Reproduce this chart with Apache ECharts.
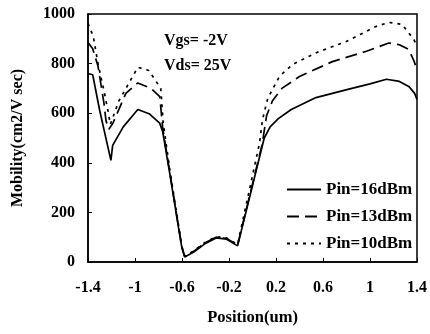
<!DOCTYPE html>
<html><head><meta charset="utf-8">
<script src="https://cdn.jsdelivr.net/npm/echarts@6/dist/echarts.min.js"></script>
<style>html,body{margin:0;padding:0;background:#fff}#c{width:430px;height:334px}</style>
</head><body><div id="c"></div>
<script>
var xTickLabels = ['-1.4','-1','-0.6','-0.2','0.2','0.6','1','1.4'];
var yTickLabels = ['0','200','400','600','800','1000'];
var seriesNames = ['Pin=16dBm','Pin=13dBm','Pin=10dBm'];
var annotations = ['Vgs= -2V','Vds= 25V'];

var pos16 = [-1.4,-1.36,-1.3,-1.205,-1.19,-1.1,-0.976,-0.88,-0.79,-0.764,-0.7,-0.62,-0.6,-0.577,-0.5,-0.4,-0.31,-0.22,-0.127,0.1,0.15,0.22,0.33,0.54,0.82,1.0,1.14,1.25,1.33,1.38,1.4];
var mob16 = [760,755,610,410,470,545,615,598,560,525,345,110,55,20,40,75,97,92,65,500,545,578,615,663,697,718,737,728,708,680,655];

var pos13 = [-1.4,-1.36,-1.315,-1.264,-1.247,-1.222,-1.188,-1.078,-0.976,-0.865,-0.789,-0.764,-0.7,-0.62,-0.6,-0.577,-0.5,-0.4,-0.31,-0.22,-0.127,0.08,0.12,0.17,0.25,0.4,0.68,0.97,1.16,1.25,1.33,1.375,1.4];
var mob13 = [885,860,790,640,570,535,560,680,722,700,667,540,350,115,60,22,43,78,100,95,68,470,590,650,700,748,808,850,883,876,857,810,775];

var pos10 = [-1.4,-1.355,-1.315,-1.264,-1.23,-1.21,-1.137,-0.976,-0.882,-0.781,-0.76,-0.7,-0.62,-0.6,-0.577,-0.5,-0.4,-0.31,-0.22,-0.127,0.06,0.085,0.13,0.229,0.339,0.543,0.797,1.052,1.162,1.273,1.374,1.4];
var mob10 = [962,910,800,690,610,555,650,785,772,700,560,360,120,60,24,45,80,102,97,70,480,574,660,748,796,844,889,950,966,958,897,870];

function pairs(xs, ys){ return xs.map(function(x,i){ return [x, ys[i]]; }); }

var font = 'Liberation Serif';
var chart = echarts.init(document.getElementById('c'), null, {renderer:'canvas'});
chart.setOption({
  animation:false,
  backgroundColor:'#fff',
  grid:{left:88,right:12,top:14,bottom:72,show:true,borderColor:'#000',borderWidth:1.5,backgroundColor:'transparent'},
  xAxis:{type:'value',min:-1.4,max:1.4,interval:0.4,
    name:'Position(um)',nameLocation:'middle',nameGap:47,
    nameTextStyle:{fontFamily:font,fontWeight:'bold',fontSize:16.5,color:'#000'},
    axisLine:{onZero:false,lineStyle:{color:'#000',width:1.5}},
    axisTick:{inside:true,length:4,lineStyle:{color:'#000'}},
    axisLabel:{margin:18,fontFamily:font,fontWeight:'bold',fontSize:16,color:'#000',
      formatter:function(v){ var i=Math.round((v+1.4)/0.4); return xTickLabels[i]!==undefined?xTickLabels[i]:''; }},
    splitLine:{show:false}},
  yAxis:{type:'value',min:0,max:1000,interval:200,
    name:'Mobility(cm2/V sec)',nameLocation:'middle',nameGap:62,nameRotate:90,
    nameTextStyle:{fontFamily:font,fontWeight:'bold',fontSize:16,color:'#000'},
    axisLine:{show:true,onZero:false,lineStyle:{color:'#000',width:1.5}},
    axisTick:{show:true,inside:true,length:4,lineStyle:{color:'#000'}},
    axisLabel:{margin:13,fontFamily:font,fontWeight:'bold',fontSize:16,color:'#000',
      formatter:function(v){ var i=Math.round(v/200); return yTickLabels[i]; }},
    splitLine:{show:false}},
  legend:{orient:'vertical',left:281,top:176,itemWidth:34,itemHeight:14,itemGap:10,
    itemStyle:{opacity:0},
    textStyle:{fontFamily:font,fontWeight:'bold',fontSize:17,color:'#000'},
    data:seriesNames},
  graphic:[
    {type:'text',left:164,top:33,style:{text:annotations[0],font:'bold 16px "Liberation Serif"',fill:'#000'}},
    {type:'text',left:164,top:58,style:{text:annotations[1],font:'bold 16px "Liberation Serif"',fill:'#000'}}
  ],
  series:[
    {name:seriesNames[0],type:'line',data:pairs(pos16,mob16),showSymbol:false,symbol:'none',
      lineStyle:{color:'#000',width:1.7,type:'solid'},itemStyle:{color:'#000'}},
    {name:seriesNames[1],type:'line',data:pairs(pos13,mob13),showSymbol:false,symbol:'none',
      lineStyle:{color:'#000',width:1.7,type:[12,6]},itemStyle:{color:'#000'}},
    {name:seriesNames[2],type:'line',data:pairs(pos10,mob10),showSymbol:false,symbol:'none',
      lineStyle:{color:'#000',width:1.7,type:[3,5]},itemStyle:{color:'#000'}}
  ]
});
</script></body></html>
